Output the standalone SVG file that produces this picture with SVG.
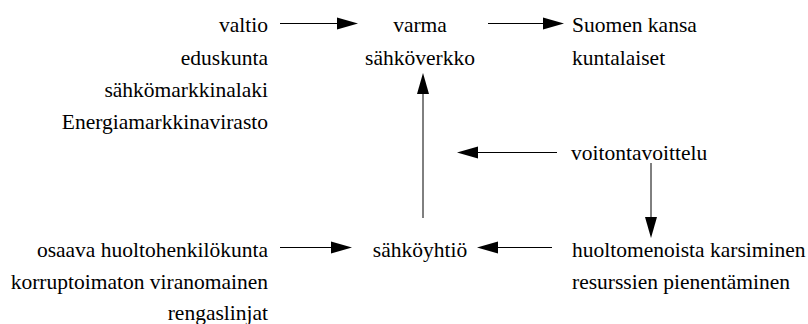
<svg xmlns="http://www.w3.org/2000/svg" width="808" height="324" viewBox="0 0 808 324">
<style>
text{font-size:21.5px;fill:#000}
.r{text-anchor:end}
.c{text-anchor:middle}
.l{text-anchor:start}
.e{stroke:#000;stroke-width:1;fill:none}
.h{fill:#000;stroke:none}
</style>
<rect width="808" height="324" fill="#fff"/>
<g id="n-left-top">
<text class="r" x="268" y="32" font-family="Times New Roman">valtio</text>
<text class="r" x="268" y="64.5" font-family="Times New Roman">eduskunta</text>
<text class="r" x="268" y="97" font-family="Times New Roman">sähkömarkkinalaki</text>
<text class="r" x="268" y="129" font-family="Times New Roman">Energiamarkkinavirasto</text>
</g>
<g id="n-varma">
<text class="c" x="420" y="32" font-family="Times New Roman">varma</text>
<text class="c" x="420" y="64.5" font-family="Times New Roman">sähköverkko</text>
</g>
<g id="n-kansa">
<text class="l" x="572" y="32" font-family="Times New Roman">Suomen kansa</text>
<text class="l" x="572" y="64.5" font-family="Times New Roman">kuntalaiset</text>
</g>
<g id="n-voitto">
<text class="l" x="571" y="160" font-family="Times New Roman">voitontavoittelu</text>
</g>
<g id="n-huolto">
<text class="l" x="572" y="257" font-family="Times New Roman">huoltomenoista karsiminen</text>
<text class="l" x="572" y="288.5" font-family="Times New Roman">resurssien pienentäminen</text>
</g>
<g id="n-yhtio">
<text class="c" x="420" y="257" font-family="Times New Roman">sähköyhtiö</text>
</g>
<g id="n-left-bottom">
<text class="r" x="268" y="257" font-family="Times New Roman">osaava huoltohenkilökunta</text>
<text class="r" x="268" y="288.5" font-family="Times New Roman">korruptoimaton viranomainen</text>
<text class="r" x="268" y="320" font-family="Times New Roman">rengaslinjat</text>
</g>
<g id="connectors">
<path class="e" d="M280,23.5 H340"/>
<path class="h" d="M358,23.5 L337,17.5 L337,29.5 Z"/>
<path class="e" d="M488,23.5 H545"/>
<path class="h" d="M564,23.5 L543,17.5 L543,29.5 Z"/>
<path class="e" d="M423,218 V90"/>
<path class="h" d="M423,73 L417,94 L429,94 Z"/>
<path class="e" d="M557,152.5 H475"/>
<path class="h" d="M457,152.5 L478,146.5 L478,158.5 Z"/>
<path class="e" d="M651,163 V220"/>
<path class="h" d="M651,238 L645,217 L657,217 Z"/>
<path class="e" d="M552,247.5 H495"/>
<path class="h" d="M477,247.5 L498,241.5 L498,253.5 Z"/>
<path class="e" d="M280,247.5 H335"/>
<path class="h" d="M352,247.5 L331,241.5 L331,253.5 Z"/>
</g>
</svg>
